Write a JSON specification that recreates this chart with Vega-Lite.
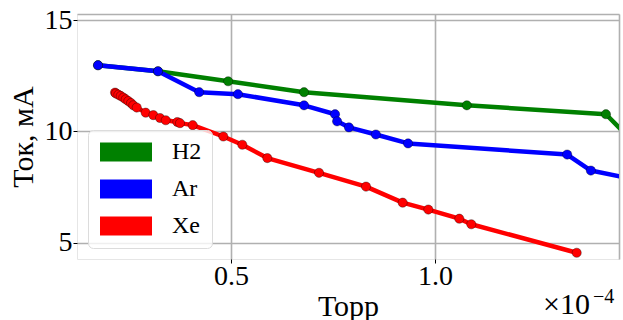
{
  "$schema": "https://vega.github.io/schema/vega-lite/v6.json",
  "width": 542,
  "height": 245,
  "autosize": "none",
  "padding": {"left": 77, "top": 14, "right": 4, "bottom": 61},
  "background": "white",
  "config": {
    "view": {"stroke": "#e6e6e6", "strokeWidth": 1},
    "font": "Liberation Serif"
  },
  "datasets": {
    "gas": [
      {"gas": "H2", "p": 0.174e-4, "i": 12.97},
      {"gas": "H2", "p": 0.321e-4, "i": 12.70},
      {"gas": "H2", "p": 0.493e-4, "i": 12.25},
      {"gas": "H2", "p": 0.679e-4, "i": 11.76},
      {"gas": "H2", "p": 1.078e-4, "i": 11.17},
      {"gas": "H2", "p": 1.419e-4, "i": 10.77},
      {"gas": "H2", "p": 1.500e-4, "i": 9.26},
      {"gas": "Ar", "p": 0.174e-4, "i": 12.97},
      {"gas": "Ar", "p": 0.321e-4, "i": 12.70},
      {"gas": "Ar", "p": 0.422e-4, "i": 11.76},
      {"gas": "Ar", "p": 0.517e-4, "i": 11.67},
      {"gas": "Ar", "p": 0.679e-4, "i": 11.17},
      {"gas": "Ar", "p": 0.755e-4, "i": 10.77},
      {"gas": "Ar", "p": 0.760e-4, "i": 10.45},
      {"gas": "Ar", "p": 0.789e-4, "i": 10.18},
      {"gas": "Ar", "p": 0.855e-4, "i": 9.86},
      {"gas": "Ar", "p": 0.934e-4, "i": 9.46},
      {"gas": "Ar", "p": 1.324e-4, "i": 8.96},
      {"gas": "Ar", "p": 1.382e-4, "i": 8.24},
      {"gas": "Ar", "p": 1.500e-4, "i": 7.80},
      {"gas": "Xe", "p": 0.2157e-4, "i": 11.74},
      {"gas": "Xe", "p": 0.2181e-4, "i": 11.70},
      {"gas": "Xe", "p": 0.2238e-4, "i": 11.65},
      {"gas": "Xe", "p": 0.2297e-4, "i": 11.59},
      {"gas": "Xe", "p": 0.2360e-4, "i": 11.52},
      {"gas": "Xe", "p": 0.2419e-4, "i": 11.44},
      {"gas": "Xe", "p": 0.2483e-4, "i": 11.36},
      {"gas": "Xe", "p": 0.2549e-4, "i": 11.27},
      {"gas": "Xe", "p": 0.2605e-4, "i": 11.17},
      {"gas": "Xe", "p": 0.2689e-4, "i": 11.07},
      {"gas": "Xe", "p": 0.2909e-4, "i": 10.84},
      {"gas": "Xe", "p": 0.3096e-4, "i": 10.73},
      {"gas": "Xe", "p": 0.3260e-4, "i": 10.60},
      {"gas": "Xe", "p": 0.3400e-4, "i": 10.50},
      {"gas": "Xe", "p": 0.3684e-4, "i": 10.42},
      {"gas": "Xe", "p": 0.3750e-4, "i": 10.37},
      {"gas": "Xe", "p": 0.4061e-4, "i": 10.28},
      {"gas": "Xe", "p": 0.4811e-4, "i": 9.77},
      {"gas": "Xe", "p": 0.5277e-4, "i": 9.40},
      {"gas": "Xe", "p": 0.5890e-4, "i": 8.80},
      {"gas": "Xe", "p": 0.7157e-4, "i": 8.14},
      {"gas": "Xe", "p": 0.8309e-4, "i": 7.52},
      {"gas": "Xe", "p": 0.9208e-4, "i": 6.80},
      {"gas": "Xe", "p": 0.9836e-4, "i": 6.49},
      {"gas": "Xe", "p": 1.0596e-4, "i": 6.08},
      {"gas": "Xe", "p": 1.0890e-4, "i": 5.83},
      {"gas": "Xe", "p": 1.3473e-4, "i": 4.55}
    ]
  },
  "layer": [
    {
      "data": {"name": "gas"},
      "mark": {"type": "line", "clip": true, "strokeWidth": 4.5, "strokeJoin": "round"},
      "encoding": {
        "x": {
          "field": "p", "type": "quantitative",
          "scale": {"domain": [1.225e-5, 1.451e-4], "nice": false, "zero": false},
          "axis": {
            "values": [0.5e-4, 1.0e-4, 1.451e-4],
            "labelExpr": "datum.value > 1.4e-4 ? '' : format(datum.value * 10000, '.1f')",
            "domain": false,
            "grid": true, "gridColor": "#b0b0b0", "gridWidth": 1.6,
            "ticks": true, "tickSize": 4, "tickColor": "#000",
            "tickOpacity": {"condition": {"test": "datum.value > 1.4e-4", "value": 0}, "value": 1},
            "labelFont": "Liberation Serif", "labelFontSize": 28, "labelColor": "#000",
            "labelBaseline": "alphabetic", "labelPadding": 21,
            "title": "Торр", "titleFont": "Liberation Serif", "titleFontSize": 30,
            "titleFontWeight": "normal", "titleColor": "#000",
            "titleBaseline": "alphabetic", "titleY": 56
          }
        },
        "y": {
          "field": "i", "type": "quantitative",
          "scale": {"domain": [4.27, 15.27], "nice": false, "zero": false},
          "axis": {
            "values": [5, 10, 15, 15.27],
            "labelExpr": "datum.value > 15.1 ? '' : datum.label",
            "domain": false,
            "grid": true, "gridColor": "#b0b0b0", "gridWidth": 1.6,
            "ticks": true, "tickSize": 4, "tickColor": "#000",
            "tickOpacity": {"condition": {"test": "datum.value > 15.1", "value": 0}, "value": 1},
            "labelFont": "Liberation Serif", "labelFontSize": 28, "labelColor": "#000",
            "labelPadding": 1,
            "title": "Ток, мА", "titleFont": "Liberation Serif", "titleFontSize": 30,
            "titleFontWeight": "normal", "titleColor": "#000",
            "titlePadding": 6
          }
        },
        "color": {
          "field": "gas", "type": "nominal",
          "scale": {"domain": ["H2", "Ar", "Xe"], "range": ["#008000", "#0000ff", "#ff0000"]}
        }
      }
    },
    {
      "data": {"name": "gas"},
      "mark": {"type": "point", "filled": true, "clip": true, "size": 85, "opacity": 1, "stroke": "#000", "strokeWidth": 0.6, "strokeOpacity": 0.6},
      "encoding": {
        "x": {"field": "p", "type": "quantitative"},
        "y": {"field": "i", "type": "quantitative"},
        "color": {
          "field": "gas", "type": "nominal",
          "legend": {
            "orient": "none", "legendX": 11, "legendY": 116,
            "title": null,
            "labelFont": "Liberation Serif", "labelFontSize": 24, "labelColor": "#000",
            "symbolType": "M-1,-0.95H4.2V0.95H-1Z",
            "symbolSize": 400,
            "symbolStrokeWidth": 0,
            "symbolOpacity": 1,
            "symbolFillOpacity": 1,
            "labelOffset": 50,
            "rowPadding": 13,
            "padding": 10,
            "fillColor": "rgba(255,255,255,0.8)",
            "strokeColor": "#dcdcdc",
            "cornerRadius": 5
          }
        }
      }
    },
    {
      "data": {"values": [{}]},
      "mark": {"type": "text", "text": "×10", "align": "left", "baseline": "alphabetic", "font": "Liberation Serif", "fontSize": 30, "color": "#000"},
      "encoding": {
        "x": {"datum": 1.2647e-4, "type": "quantitative"},
        "y": {"datum": 1.78, "type": "quantitative"}
      }
    },
    {
      "data": {"values": [{}]},
      "mark": {"type": "text", "text": "−4", "align": "left", "baseline": "alphabetic", "font": "Liberation Serif", "fontSize": 20, "color": "#000"},
      "encoding": {
        "x": {"datum": 1.3873e-4, "type": "quantitative"},
        "y": {"datum": 2.3, "type": "quantitative"}
      }
    }
  ]
}
